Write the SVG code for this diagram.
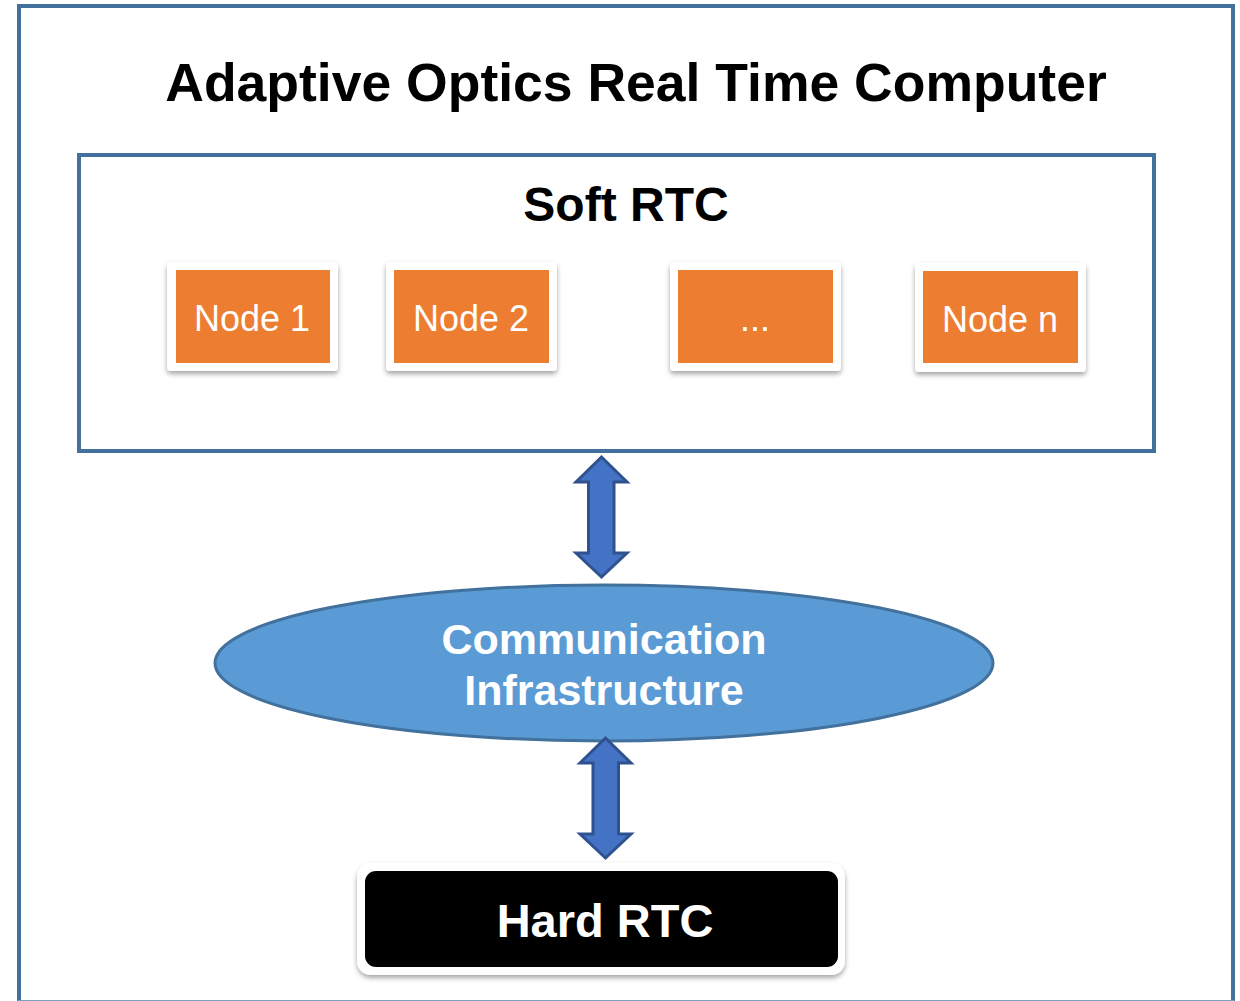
<svg xmlns="http://www.w3.org/2000/svg" width="1240" height="1001" viewBox="0 0 1240 1001">
<defs>
<style>
.frame{fill:#fff;stroke:#41719C;stroke-width:4}
.card{fill:#fff;filter:url(#sh)}
.orange{fill:#ED7D31}
.ntxt{font-family:"Liberation Sans",Arial,sans-serif;font-size:36px;fill:#fff;text-anchor:middle}
.btxt{font-family:"Liberation Sans",Arial,sans-serif;font-weight:bold;text-anchor:middle}
.arrow{fill:#4472C4;stroke:#2F528F;stroke-width:3;stroke-linejoin:miter}
</style>
<filter id="sh" x="-10%" y="-10%" width="120%" height="130%">
<feDropShadow dx="0" dy="3" stdDeviation="2.5" flood-color="#000" flood-opacity="0.35"/>
</filter>
</defs>
<rect width="1240" height="1001" fill="#fff"/>
<g id="outer">
<rect class="frame" x="19" y="6" width="1214" height="1010"/>
<line x1="18" y1="1000.5" x2="1234" y2="1000.5" stroke="#7BA0C4" stroke-width="1"/>
<text class="btxt" x="636" y="101" font-size="53.5" fill="#000">Adaptive Optics Real Time Computer</text>
</g>
<g id="soft-rtc">
<rect class="frame" x="79" y="155" width="1075" height="296"/>
<text class="btxt" x="626" y="221" font-size="48" fill="#000">Soft RTC</text>
</g>
<g id="node1">
<rect class="card" x="167" y="262" width="171" height="109" rx="4"/>
<rect class="orange" x="176" y="270" width="154" height="93"/>
<text class="ntxt" x="252" y="331">Node 1</text>
</g>
<g id="node2">
<rect class="card" x="386" y="262" width="171" height="109" rx="4"/>
<rect class="orange" x="394" y="270" width="155" height="93"/>
<text class="ntxt" x="471" y="331">Node 2</text>
</g>
<g id="node-dots">
<rect class="card" x="670" y="262" width="171" height="109" rx="4"/>
<rect class="orange" x="678" y="270" width="155" height="93"/>
<text class="ntxt" x="755" y="331">...</text>
</g>
<g id="node-n">
<rect class="card" x="915" y="263" width="171" height="109" rx="4"/>
<rect class="orange" x="923" y="271" width="155" height="92"/>
<text class="ntxt" x="1000" y="332">Node n</text>
</g>
<g id="comm">
<ellipse cx="604" cy="663" rx="389" ry="78" fill="#5B9BD5" stroke="#41719C" stroke-width="3"/>
<text class="btxt" x="604" y="654" font-size="43" fill="#fff">Communication</text>
<text class="btxt" x="604" y="705" font-size="43" fill="#fff">Infrastructure</text>
</g>
<g id="hard-rtc">
<rect class="card" x="357" y="863" width="488" height="112" rx="14"/>
<rect x="365" y="871" width="473" height="96" rx="11" fill="#000"/>
<text class="btxt" x="605" y="937" font-size="47" fill="#fff">Hard RTC</text>
</g>
<g id="connectors">
<path class="arrow" d="M601.5,457 L576,482 L588.5,482 L588.5,553 L576,553 L601.5,577 L627,553 L614,553 L614,482 L627,482 Z"/>
<path class="arrow" d="M605.5,738 L580,763 L593,763 L593,834 L580,834 L605.5,858 L631,834 L618.5,834 L618.5,763 L631,763 Z"/>
</g>
</svg>
